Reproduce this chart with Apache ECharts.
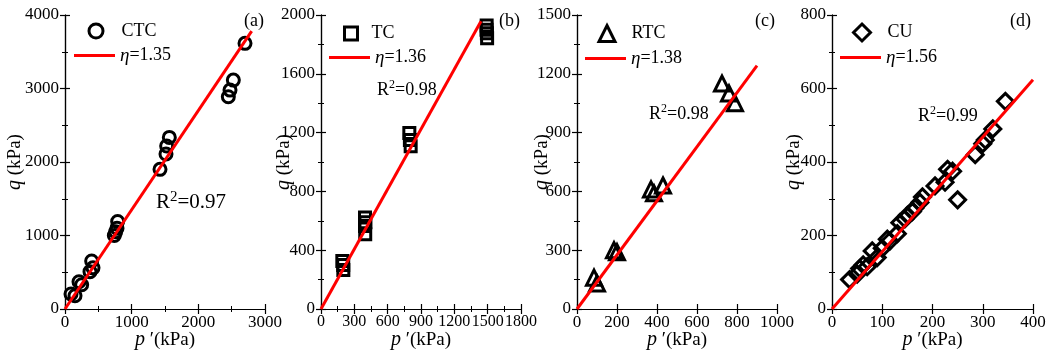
<!DOCTYPE html>
<html><head><meta charset="utf-8">
<script src="https://cdn.jsdelivr.net/npm/echarts@6/dist/echarts.min.js"></script>
<style>html,body{margin:0;padding:0;background:#fff}#c{width:1052px;height:357px}</style>
</head><body><div id="c"></div>
<script>
// ---- data ----
const ctcPts = [[90,204],[150,180],[210,370],[250,330],[375,508],[400,653],[420,560],[740,1000],[760,1050],[780,1100],[790,1190],[1425,1900],[1515,2108],[1525,2217],[1565,2335],[2450,2888],[2475,2978],[2525,3114],[2700,3614]];
const tcPts = [[192,327],[200,300],[201,266],[396,622],[400,590],[396,565],[398,508],[795,1198],[800,1150],[807,1107],[1491,1928],[1493,1876],[1495,1842],[1490,1900]];
const rtcPts = [[85,160],[100,130],[185,300],[200,290],[370,610],[385,590],[430,630],[725,1150],[760,1100],[790,1050]];
const cuPts = [[35,80],[50,95],[55,110],[62,120],[70,115],[80,158],[90,140],[100,165],[110,190],[115,185],[130,205],[135,235],[145,245],[150,255],[160,265],[165,275],[175,290],[180,305],[205,335],[225,345],[230,380],[240,375],[250,297],[285,420],[300,450],[305,460],[320,490],[345,565]];
const fitCTC = [[0,0],[2800,3780]];
const fitTC = [[0,0],[1440,1958]];
const fitRTC = [[0,0],[900,1242]];
const fitCU = [[0,0],[400,624]];
const seriesNames = ['CTC','TC','RTC','CU'];
const etaLabels = ['1.35','1.36','1.38','1.56'];
const r2Labels = ['0.97','0.98','0.98','0.99'];
const panelLabels = ['(a)','(b)','(c)','(d)'];
const xMax = [3000,1800,1000,400];
const xStep = [1000,300,200,100];
const yMax = [4000,2000,1500,800];
const yStep = [1000,400,300,200];
const xMinorSplit = [2,2,0,0];
const yMinorSplit = [2,2,2,2];

// ---- layout ----
const FONT = 'Liberation Serif';
const gridLeft = [65,321,577,832];
const gridW = [200,200,200,201];
const yNameGap = [40,27,25,28];
const xLabelSize = [17,16,17,17];
const symbols = ['circle','rect','triangle','diamond'];
const symSize = [12,11,15,16];
const legSym = [14,13,16,17];
const ptsList = [ctcPts,tcPts,rtcPts,cuPts];
const fitList = [fitCTC,fitTC,fitRTC,fitCU];
const legendPos = [[74,22],[329,24],[585,25],[840,24]];
const legTextOff = [46,41,45,46];
const r2Pos = [[156,190,21,15],[377,79,18,12],[649,103,18,12],[918,105,18,12]];
const panelPos = [[244,12],[499,12],[755,12],[1010,12]];

const grids=[],xAxes=[],yAxes=[],series=[],legends=[],titles=[];
const rich = {
  i:{fontFamily:FONT,fontStyle:'italic',fontSize:20,color:'#000'},
  n:{fontFamily:FONT,fontSize:19,color:'#000'}
};
const plain = v => String(v);
for(let k=0;k<4;k++){
  grids.push({left:gridLeft[k],top:15,width:gridW[k],height:294});
  const lineStyle={color:'#000',width:1.2};
  const tick={show:true,inside:true,length:5,lineStyle:{color:'#000',width:1.2}};
  const minor=(s)=>({show:s>0,splitNumber:s||1,length:3,lineStyle:{color:'#000',width:1}});
  xAxes.push({type:'value',gridIndex:k,min:0,max:xMax[k],interval:xStep[k],position:'bottom',
    axisLine:{show:true,lineStyle},axisTick:tick,minorTick:minor(xMinorSplit[k]),splitLine:{show:false},
    axisLabel:{color:'#000',fontFamily:FONT,fontSize:xLabelSize[k],margin:5,formatter:plain,showMaxLabel:true,showMinLabel:true,hideOverlap:false},
    name:'{i|p}{n| ′(kPa)}',nameLocation:'middle',nameGap:21,nameMoveOverlap:false,nameTextStyle:{rich}});
  xAxes.push({type:'value',gridIndex:k,min:0,max:xMax[k],interval:xStep[k],position:'top',
    axisLine:{show:true,lineStyle},axisTick:tick,minorTick:minor(xMinorSplit[k]),splitLine:{show:false},axisLabel:{show:false}});
  yAxes.push({type:'value',gridIndex:k,min:0,max:yMax[k],interval:yStep[k],position:'left',
    axisLine:{show:true,lineStyle},axisTick:tick,minorTick:minor(yMinorSplit[k]),splitLine:{show:false},
    axisLabel:{color:'#000',fontFamily:FONT,fontSize:17,margin:6,formatter:plain},
    name:'{i|q}{n| (kPa)}',nameLocation:'middle',nameGap:yNameGap[k],nameRotate:90,nameMoveOverlap:false,nameTextStyle:{rich}});
  yAxes.push({type:'value',gridIndex:k,min:0,max:yMax[k],interval:yStep[k],position:'right',
    axisLine:{show:true,lineStyle},axisTick:tick,minorTick:minor(yMinorSplit[k]),splitLine:{show:false},axisLabel:{show:false}});
  series.push({type:'scatter',name:seriesNames[k],xAxisIndex:2*k,yAxisIndex:2*k,data:ptsList[k],
    symbol:symbols[k],symbolSize:symSize[k],
    itemStyle:{color:'rgba(255,255,255,0)',borderColor:'#000',borderWidth:3,opacity:1},z:3});
  series.push({type:'line',name:'eta'+k,xAxisIndex:2*k,yAxisIndex:2*k,data:fitList[k],
    symbol:'none',lineStyle:{color:'#ff0000',width:3},itemStyle:{color:'#ff0000'},z:4,silent:true});
  const lx=legendPos[k][0], ly=legendPos[k][1];
  const s=legSym[k];
  legends.push({orient:'vertical',left:lx+20.5-s/2,top:ly+7-s/2,padding:0,itemWidth:s,itemHeight:s,
    data:[{name:seriesNames[k],icon:symbols[k],itemStyle:{borderWidth:3,borderColor:'#000',color:'rgba(255,255,255,0)'}}],
    formatter:(name)=>'{t|'+name+'}',
    textStyle:{rich:{t:{fontFamily:FONT,fontSize:18,color:'#000',padding:[0,0,0,legTextOff[k]-25.5-s/2]}}},
    selectedMode:false});
  legends.push({orient:'vertical',left:lx,top:ly+24,padding:0,itemWidth:41,itemHeight:3,
    data:[{name:'eta'+k,icon:'rect',itemStyle:{color:'#ff0000'}}],
    formatter:()=>'{e|η}{t|='+etaLabels[k]+'}',
    textStyle:{rich:{e:{fontFamily:FONT,fontStyle:'italic',fontSize:19,color:'#000'},t:{fontFamily:FONT,fontSize:18,color:'#000'}}},
    selectedMode:false});
  const rp=r2Pos[k];
  titles.push({text:'{r|R}{s|2}{r|='+r2Labels[k]+'}',left:rp[0],top:rp[1],padding:0,
    textStyle:{fontWeight:'normal',rich:{r:{fontFamily:FONT,fontWeight:'normal',fontSize:rp[2],color:'#000',verticalAlign:'bottom',lineHeight:rp[2]+2},
      s:{fontFamily:FONT,fontWeight:'normal',fontSize:rp[3],color:'#000',verticalAlign:'top',lineHeight:rp[2]+2}}}});
  titles.push({text:panelLabels[k],left:panelPos[k][0],top:panelPos[k][1],padding:0,
    textStyle:{fontFamily:FONT,fontSize:18,fontWeight:'normal',color:'#000'}});
}
const chart = echarts.init(document.getElementById('c'),null,{renderer:'canvas'});
chart.setOption({animation:false,backgroundColor:'#fff',grid:grids,xAxis:xAxes,yAxis:yAxes,series,legend:legends,title:titles});
</script></body></html>
